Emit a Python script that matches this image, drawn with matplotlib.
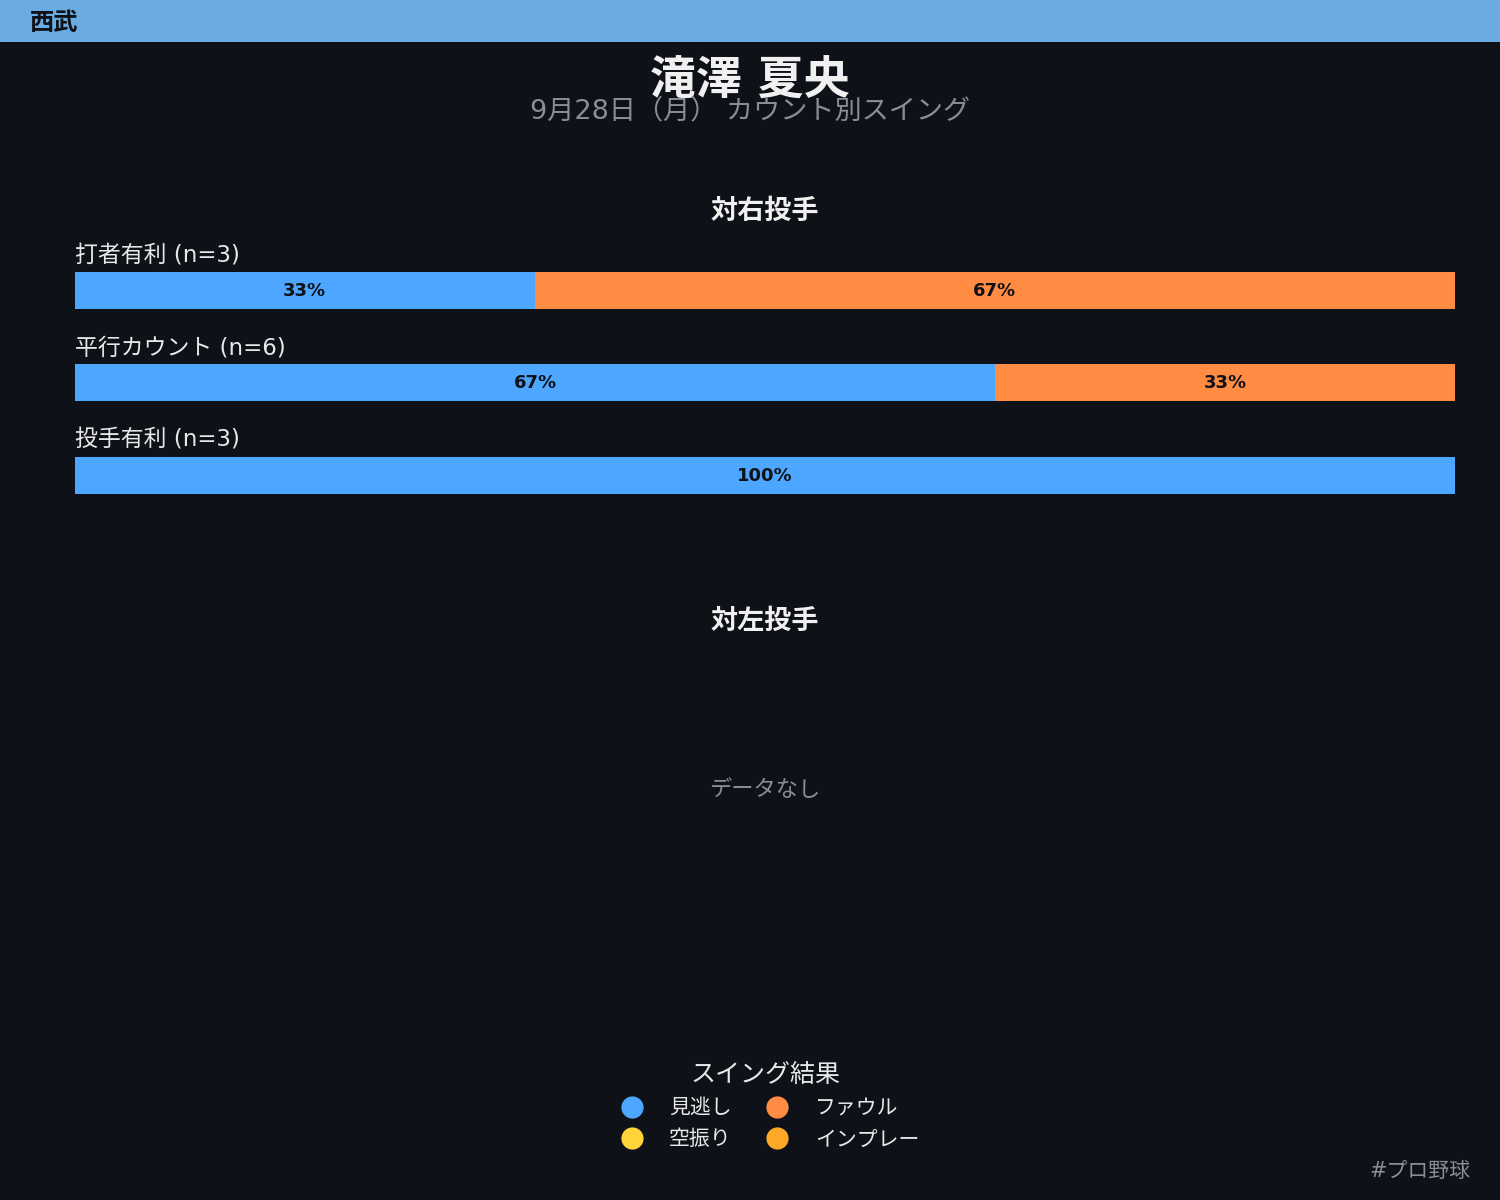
import matplotlib
matplotlib.use("Agg")
import matplotlib.pyplot as plt
from matplotlib.lines import Line2D
from matplotlib.patches import Rectangle

plt.rcParams['font.family'] = ['DejaVu Sans', 'Noto Sans CJK JP']

# data
team = "西武"
player = "滝澤 夏央"
subtitle = "9月28日（月） カウント別スイング"
categories = ["打者有利", "平行カウント", "投手有利"]
counts_n = [3, 6, 3]
outcomes = ["見逃し", "空振り", "ファウル", "インプレー"]
# percentages per category vs right-handed pitchers, in outcome order
pct_right = {
    "見逃し": [33.3, 66.7, 100.0],
    "空振り": [0, 0, 0],
    "ファウル": [66.7, 33.3, 0],
    "インプレー": [0, 0, 0],
}
colors = {
    "見逃し": "#4da6ff",
    "空振り": "#ffd43b",
    "ファウル": "#ff8c42",
    "インプレー": "#ffa726",
}

bg = "#0e1117"
fig = plt.figure(figsize=(15, 12), dpi=100, facecolor=bg)

# header band
fig.patches.append(Rectangle((0, 1 - 42 / 1200), 1, 42 / 1200, transform=fig.transFigure,
                             facecolor="#6aace2", edgecolor="none", zorder=0))
fig.text(0.02, 1 - 23 / 1200, team, fontsize=17.5, fontweight="bold", color="#0e1117",
         ha="left", va="center")

fig.text(0.5, 1 - 81 / 1200, player, fontsize=33, fontweight="bold", color="#f0f0f0",
         ha="center", va="center")
fig.text(0.5, 1 - 111 / 1200, subtitle, fontsize=19.5, color="#8a8d93",
         ha="center", va="center")

# right-handed panel
fig.text(0.51, 1 - 212 / 1200, "対右投手", fontsize=19.5, fontweight="bold", color="#f0f0f0",
         ha="center", va="center")
ax = fig.add_axes([0.05, 1 - 520 / 1200, 0.92, 290 / 1200])
ax.set_facecolor(bg)
left = [0.0] * len(categories)
for o in outcomes:
    vals = pct_right[o]
    ax.barh(range(len(categories)), vals, left=left, height=0.4, color=colors[o],
            edgecolor="none")
    for i, v in enumerate(vals):
        if v > 0:
            ax.text(left[i] + v / 2, i + 0.01, f"{v:.0f}%", ha="center", va="center",
                    fontsize=13, fontweight="bold", color="#0e1117")
    left = [l + v for l, v in zip(left, vals)]
for i, (c, n) in enumerate(zip(categories, counts_n)):
    ax.text(0, i - 0.25, f"{c} (n={n})", ha="left", va="bottom", fontsize=16.5,
            color="#e8e8e8")
ax.set_xlim(0, 100)
ax.set_ylim(2.486, -0.649)
ax.axis("off")

# left-handed panel
fig.text(0.51, 1 - 622 / 1200, "対左投手", fontsize=19.5, fontweight="bold", color="#f0f0f0",
         ha="center", va="center")
fig.text(0.51, 1 - 790 / 1200, "データなし", fontsize=16, color="#8a8d93",
         ha="center", va="center")

# legend
handles = [Line2D([], [], marker="o", linestyle="none", markersize=16,
                  markerfacecolor=colors[o], markeredgecolor="none") for o in outcomes]
leg = fig.legend(handles, outcomes, loc="center", bbox_to_anchor=(0.51, 1 - 1106 / 1200),
                 ncol=2, frameon=False, fontsize=15, title="スイング結果",
                 title_fontsize=18, labelcolor="#e8e8e8", handletextpad=0.8,
                 columnspacing=1.2, labelspacing=0.55)
leg.get_title().set_color("#e8e8e8")

fig.text(0.98, 1 - 1171 / 1200, "#プロ野球", fontsize=15, color="#8a8d93",
         ha="right", va="center")

fig.savefig("out.png", dpi=100, facecolor=bg)
